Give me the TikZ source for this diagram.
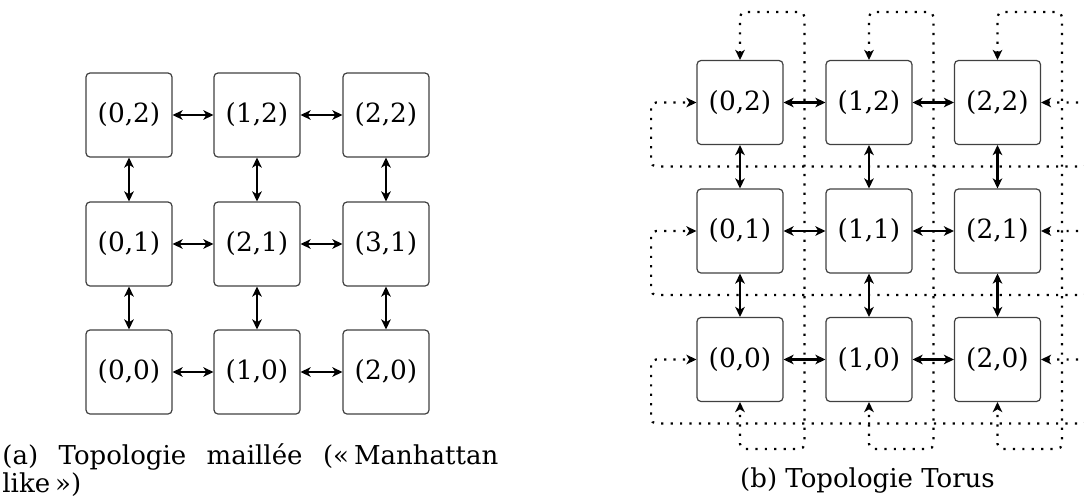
\documentclass[tikz,border=0pt]{standalone}
\usepackage{fontspec}
\setmainfont{DejaVu Serif}
\usetikzlibrary{arrows.meta}
\begin{document}
\begin{tikzpicture}[x=0.5pt,y=-0.5pt,
  cell/.style={draw=black!75,line width=0.6pt,rounded corners=2pt,minimum width=43pt,minimum height=42pt,inner sep=0pt,font=\fontsize{13.2pt}{16pt}\selectfont},
  link/.style={line width=1.1pt,{Stealth[length=5pt,width=4.8pt,inset=1.4pt]}-{Stealth[length=5pt,width=4.8pt,inset=1.4pt]}},
  wrap/.style={line width=1.1pt,dash pattern=on 1.1pt off 3.6pt,rounded corners=2.5pt,{Stealth[length=5pt,width=4.8pt,inset=1.4pt]}-{Stealth[length=5pt,width=4.8pt,inset=1.4pt]}},
  captext/.style={inner sep=0pt,font=\fontsize{13pt}{15.5pt}\selectfont}]
\useasboundingbox (0,0) rectangle (1084,499);
\begin{scope}
\clip (0,0) rectangle (1084,499);
% (a) mesh
\node[cell] (m02) at (129,115) {(0,2)};
\node[cell] (m12) at (257,115) {(1,2)};
\node[cell] (m22) at (386,115) {(2,2)};
\node[cell] (m01) at (129,244) {(0,1)};
\node[cell] (m11) at (257,244) {(2,1)};
\node[cell] (m21) at (386,244) {(3,1)};
\node[cell] (m00) at (129,372) {(0,0)};
\node[cell] (m10) at (257,372) {(1,0)};
\node[cell] (m20) at (386,372) {(2,0)};
\foreach \r in {0,1,2}{
  \draw[link] (m0\r.east) -- (m1\r.west);
  \draw[link] (m1\r.east) -- (m2\r.west);
}
\foreach \c in {0,1,2}{
  \draw[link] (m\c2.south) -- (m\c1.north);
  \draw[link] (m\c1.south) -- (m\c0.north);
}
\node[captext,anchor=west] (capA1) at (2,457) {\makebox[248pt][s]{(a) Topologie maillée («\kern2.5pt Manhattan}};
\node[captext,anchor=west] (capA2) at (2,485) {like\kern2.5pt»)};
% (b) torus
\node[cell] (t02) at (740,102.5) {(0,2)};
\node[cell] (t12) at (869,102.5) {(1,2)};
\node[cell] (t22) at (997.5,102.5) {(2,2)};
\node[cell] (t01) at (740,231) {(0,1)};
\node[cell] (t11) at (869,231) {(1,1)};
\node[cell] (t21) at (997.5,231) {(2,1)};
\node[cell] (t00) at (740,359.5) {(0,0)};
\node[cell] (t10) at (869,359.5) {(1,0)};
\node[cell] (t20) at (997.5,359.5) {(2,0)};
\foreach \c in {0,1,2}{
  \draw[wrap] (t\c2.north) -- ++(0,-48) -- ++(64.5,0) -- ++(0,437) -- ++(-64.5,0) -- (t\c0.south);
}
\foreach \r in {0,1,2}{
  \draw[wrap] (t2\r.east) -- ++(48,0) -- ++(0,64) -- ++(-438,0) -- ++(0,-64) -- (t0\r.west);
}
\foreach \r in {0,1,2}{
  \draw[link] (t0\r.east) -- (t1\r.west);
  \draw[link] (t1\r.east) -- (t2\r.west);
}
\foreach \c in {0,1,2}{
  \draw[link] (t\c2.south) -- (t\c1.north);
  \draw[link] (t\c1.south) -- (t\c0.north);
}
\node[captext] (capB) at (867.5,481) {(b) Topologie Torus};
\end{scope}
\end{tikzpicture}
\end{document}
